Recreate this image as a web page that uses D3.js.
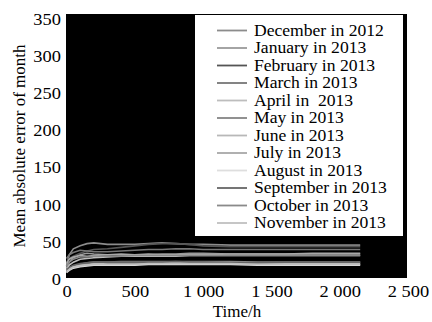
<!DOCTYPE html>
<html><head><meta charset="utf-8"><script src="https://cdn.jsdelivr.net/npm/d3@7"></script></head>
<body style="margin:0">
<svg id="s" width="432" height="322"></svg>
<script>
// ---- data ----
const months = ["December in 2012","January in 2013","February in 2013","March in 2013",
  "April in  2013","May in 2013","June in 2013","July in 2013","August in 2013",
  "September in 2013","October in 2013","November in 2013"];
const colors = ["#8c8c8c","#9a9a9a","#555555","#777777","#bdbdbd","#858585",
  "#b8b8b8","#a8a8a8","#dedede","#666666","#8a8a8a","#c0c0c0"];
const hours = [0,20,50,100,150,200,300,400,500,600,700,800,900,1000,1200,1400,1600,1800,2000,2150];
const dec2012 = [15,30,38,42,45,46,44,44,44,45,46,45,44,44,43,43,43,43,43,43];
const jan2013 = [12,20,26,30,32,31,30,30,30,30,31,31,32,32,31,31,31,31,31,31];
const feb2013 = [20,25,28,32,35,37,38,40,42,44,45,45,44,42,41,41,41,41,41,41];
const mar2013 = [25,30,33,36,35,34,34,35,36,37,37,38,38,37,37,37,37,37,37,37];
const apr2013 = [10,16,20,24,25,26,27,28,28,28,28,28,29,29,29,29,29,29,29,29];
const may2013 = [8,11,14,17,19,20,20,21,21,21,21,21,21,21,21,20,20,20,20,20];
const jun2013 = [9,12,14,16,17,18,19,19,19,19,19,19,19,18,18,18,18,18,18,18];
const jul2013 = [18,24,27,29,28,29,30,31,30,31,30,30,30,30,31,31,31,32,32,32];
const aug2013 = [6,9,12,14,15,16,16,16,16,17,17,17,17,17,17,16,16,16,16,16];
const sep2013 = [10,13,16,18,19,20,20,20,20,20,20,21,20,20,19,19,20,20,20,20];
const oct2013 = [14,20,24,27,27,28,28,28,29,29,29,29,29,29,29,29,29,29,29,29];
const nov2013 = [7,10,13,15,16,17,17,17,17,18,18,18,18,18,18,17,17,17,17,17];
const series = [dec2012,jan2013,feb2013,mar2013,apr2013,may2013,jun2013,jul2013,aug2013,sep2013,oct2013,nov2013];
const xTicks = [0,500,1000,1500,2000,2500];
const yTicks = [0,50,100,150,200,250,300,350];

const FONT = '"Liberation Serif"';
const svg = d3.select("#s");
const L = 66, R = 407, T = 14, B = 278;
const x = d3.scaleLinear().domain([0,2500]).range([L+0.5, 408]);
const y = d3.scaleLinear().domain([0,350]).range([277, 17.5]);

svg.append("rect").attr("x",L).attr("y",T).attr("width",R-L).attr("height",B-T).attr("fill","#000");

const line = d3.line().x((d,i)=>x(hours[i])).y(d=>y(d));
series.forEach((s,k)=>{
  svg.append("path").datum(s).attr("d",line).attr("fill","none")
    .attr("stroke",colors[k]).attr("stroke-width",1.6);
});

const fmt = d => d>=1000 ? String(d).replace(/(\d)(\d{3})$/,"$1 $2") : String(d);
// axis tick labels from D3 axes
const xAxis = svg.append("g").attr("transform",`translate(0,${B})`)
  .call(d3.axisBottom(x).tickValues(xTicks).tickFormat(fmt).tickSize(0).tickPadding(0));
xAxis.attr("font-family",null).attr("font-size",null);
xAxis.select(".domain").remove();
xAxis.selectAll("text").attr("font-size",16).style("font-family",FONT).attr("dy","1em").attr("y",3)
  .attr("fill","#000").attr("transform","scale(1.15,1)");

const yAxis = svg.append("g").attr("transform",`translate(${L},0)`)
  .call(d3.axisLeft(y).tickValues(yTicks).tickSize(0).tickPadding(0));
yAxis.attr("font-family",null).attr("font-size",null);
yAxis.select(".domain").remove();
yAxis.selectAll("text").attr("font-size",16).style("font-family",FONT).attr("x",-4.5).attr("dy","0.45em")
  .attr("fill","#000").attr("transform","scale(1.15,1)");

svg.append("text").attr("x",237).attr("y",317).attr("text-anchor","middle")
  .attr("font-size",17).style("font-family",FONT).text("Time/h");
svg.append("text").attr("transform","translate(25,146) rotate(-90)").attr("text-anchor","middle")
  .attr("font-size",17).style("font-family",FONT).text("Mean absolute error of month");

// legend
svg.append("rect").attr("x",195).attr("y",15).attr("width",208).attr("height",221).attr("fill","#fff");
months.forEach((m,i)=>{
  const cy = 30.5 + i*17.5;
  svg.append("line").attr("x1",217).attr("x2",247).attr("y1",cy).attr("y2",cy)
    .attr("stroke",colors[i]).attr("stroke-width",1.8);
  svg.append("text").attr("transform",`translate(254,${cy+5}) scale(1.1,1)`)
    .attr("font-size",16).style("font-family",FONT).attr("xml:space","preserve").text(m);
});
</script></body></html>
